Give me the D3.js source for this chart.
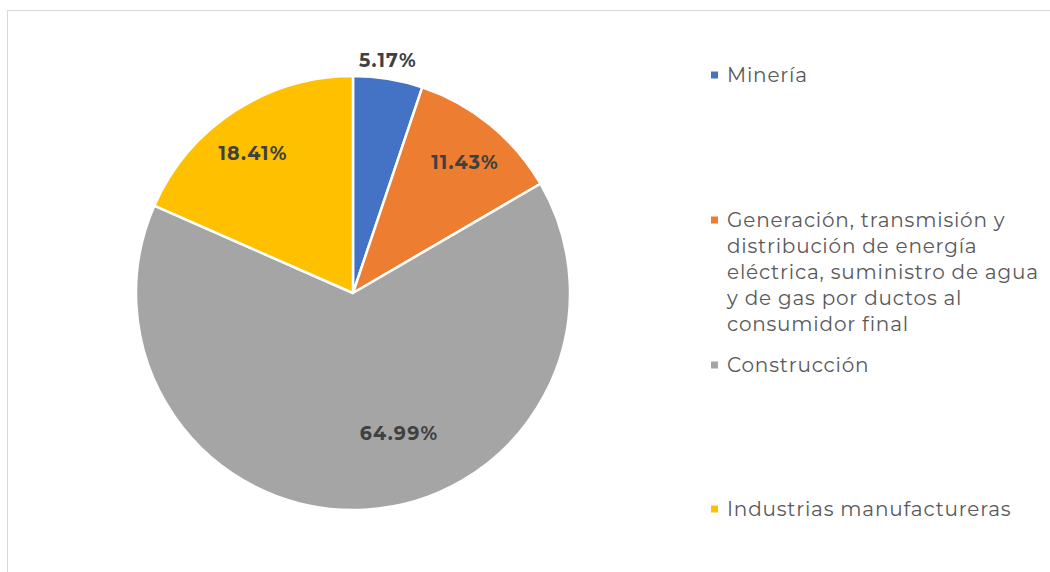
<!DOCTYPE html>
<html>
<head>
<meta charset="utf-8">
<script src="https://cdn.jsdelivr.net/npm/d3@7"></script>
<style>
  html, body { margin: 0; padding: 0; background: #fff; }
  svg { display: block; }
</style>
</head>
<body>
<script>
// Distribución por sector (porcentajes)
const categories = [
  "Minería",
  "Generación, transmisión y distribución de energía eléctrica, suministro de agua y de gas por ductos al consumidor final",
  "Construcción",
  "Industrias manufactureras"
];
const legendLines = [
  ["Minería"],
  ["Generación, transmisión y", "distribución de energía", "eléctrica, suministro de agua", "y de gas por ductos al", "consumidor final"],
  ["Construcción"],
  ["Industrias manufactureras"]
];
const values = [5.17, 11.43, 64.99, 18.41];
const valueLabels = ["5.17%", "11.43%", "64.99%", "18.41%"];
const colors = ["#4472C4", "#ED7D31", "#A5A5A5", "#FFC000"];

const W = 1050, H = 572;
const svg = d3.select("body").append("svg").attr("width", W).attr("height", H);

// chart frame
svg.append("rect")
  .attr("x", 7.5).attr("y", 10.5)
  .attr("width", W).attr("height", H)
  .attr("fill", "none").attr("stroke", "#d9d9d9").attr("stroke-width", 1);

const cx = 353, cy = 293, r = 217;
const font = "Montserrat, 'Open Sans', 'Noto Sans', sans-serif";

const pie = d3.pie().sort(null).value(d => d);
const arcs = pie(values);
const arc = d3.arc().innerRadius(0).outerRadius(r);

const g = svg.append("g").attr("transform", `translate(${cx},${cy})`);
g.selectAll("path.slice")
  .data(arcs)
  .join("path")
  .attr("class", "slice")
  .attr("d", arc)
  .attr("fill", (d, i) => colors[i])
  .attr("stroke", "#fff")
  .attr("stroke-width", 2.5)
  .attr("stroke-linejoin", "round");

// data label placement, relative to the pie centre
const labelOffset = [[35, -233], [112, -131], [46, 140], [-100, -140]];
g.selectAll("text.val")
  .data(arcs)
  .join("text")
  .attr("class", "val")
  .attr("transform", (d, i) => `translate(${labelOffset[i][0]},${labelOffset[i][1]})`)
  .attr("text-anchor", "middle")
  .attr("dominant-baseline", "central")
  .attr("font-family", font)
  .attr("font-weight", "bold")
  .attr("font-size", 19)
  .attr("letter-spacing", 1.2)
  .attr("fill", "#404040")
  .text((d, i) => valueLabels[i]);

// legend
const legendY = [75, 220, 365, 509];
const lineH = 26;
const leg = svg.append("g");
legendLines.forEach((lines, i) => {
  leg.append("rect")
    .attr("x", 711).attr("y", legendY[i] - 3.5)
    .attr("width", 7).attr("height", 7)
    .attr("fill", colors[i]);
  const t = leg.append("text")
    .attr("x", 727)
    .attr("font-family", font)
    .attr("font-size", 20)
    .attr("letter-spacing", 0.8)
    .attr("fill", "#595959");
  lines.forEach((ln, j) => {
    t.append("tspan")
      .attr("x", 727)
      .attr("y", legendY[i] + j * lineH)
      .attr("dominant-baseline", "central")
      .text(ln);
  });
});
</script>
</body>
</html>
